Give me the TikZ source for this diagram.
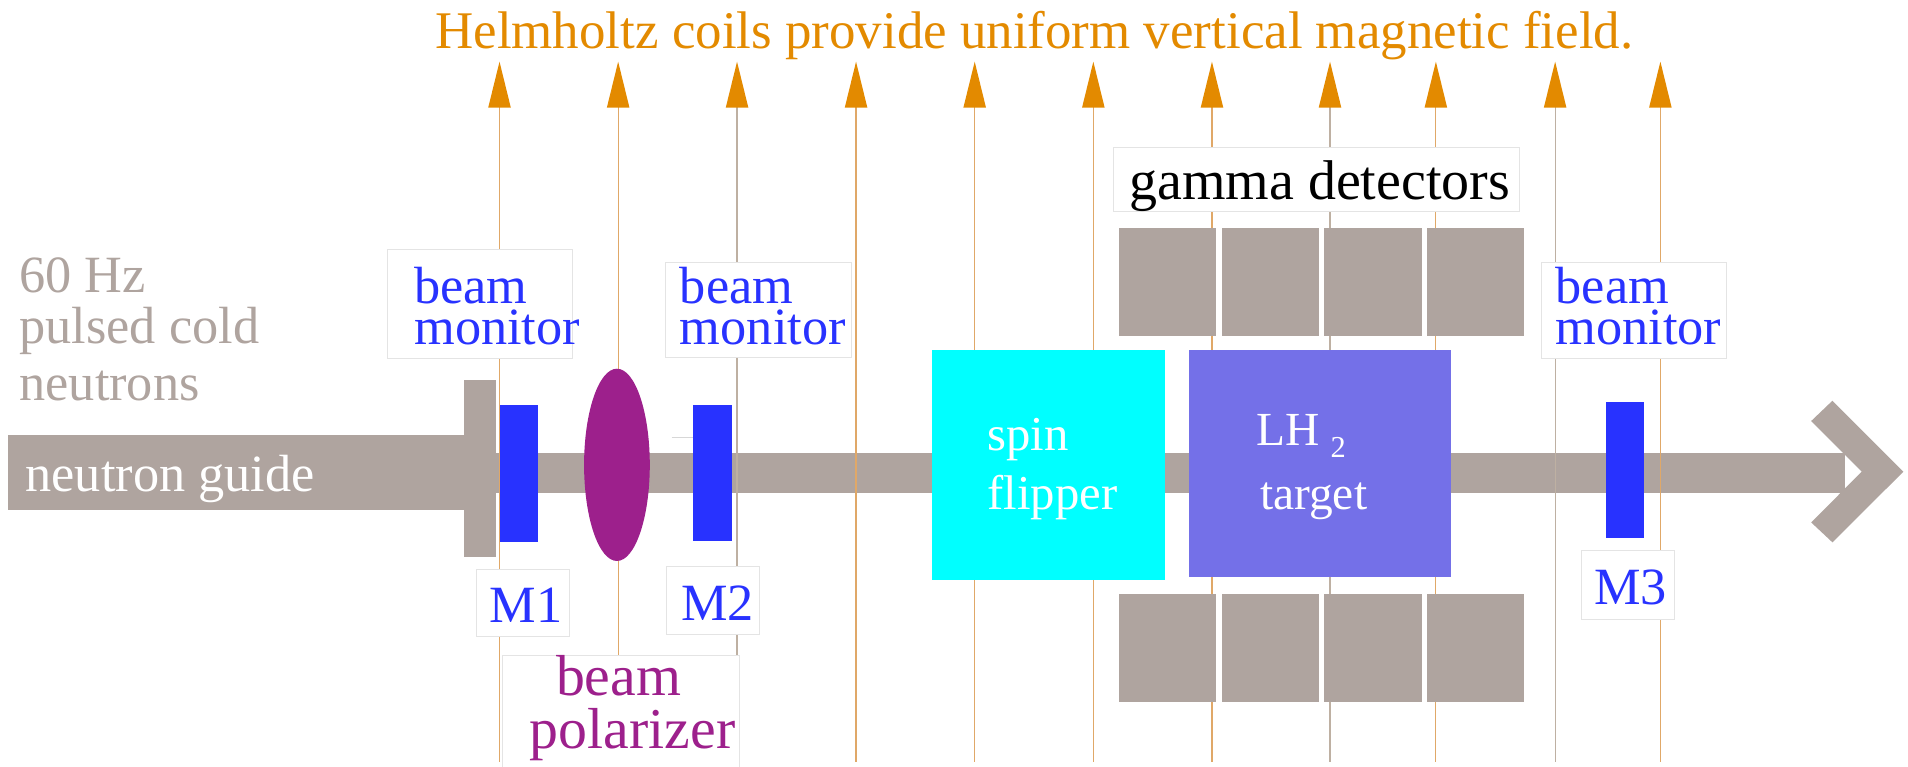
\documentclass[tikz,border=0pt]{standalone}
\usepackage{fontspec}
\usetikzlibrary{shapes.geometric}
\setmainfont{Liberation Serif}
\definecolor{beamgray}{RGB}{175,164,159}
\definecolor{fieldorange}{RGB}{227,138,0}
\definecolor{lineorange}{RGB}{224,168,104}
\definecolor{linegray}{RGB}{190,176,162}
\definecolor{monblue}{RGB}{40,50,255}
\definecolor{polpurple}{RGB}{157,32,140}
\definecolor{flipcyan}{RGB}{0,255,255}
\definecolor{targetblue}{RGB}{116,112,232}
\definecolor{boxline}{RGB}{228,228,228}
\definecolor{tickgray}{RGB}{215,215,215}
\newcommand\setfs[1]{\fontsize{#1}{#1}\selectfont}
\begin{document}
\begin{tikzpicture}[x=1pt,y=-1pt,
  txt/.style={inner sep=0pt,outer sep=0pt,anchor=base west},
  montxt/.style={inner sep=0pt,outer sep=0pt,anchor=base west,align=left,text=monblue,
                 font=\fontsize{43}{33.6}\selectfont},
  shp/.style={inner sep=0pt,outer sep=0pt,anchor=north west,draw=none},
  lbox/.style={inner sep=0pt,outer sep=0pt,anchor=north west,draw=boxline,line width=0.8pt,fill=white},
  field/.style={line width=1pt},
  fhead/.style={fill=fieldorange},
]
\useasboundingbox (0,0) rectangle (1568,630);

% --- beam line ---
\node[shp,fill=beamgray,minimum width=374.8,minimum height=61.7] (guide) at (6.7,357.3) {};
\node[shp,fill=beamgray,minimum width=26.1,minimum height=146] (flange) at (381.5,312) {};
\node[shp,fill=beamgray,minimum width=1108.4,minimum height=32.5] (beam) at (407.6,372.5) {};
\fill[beamgray] (1488.4,346) -- (1505.9,329.3) -- (1564.2,387.6) -- (1505.9,445.7)
   -- (1488.4,429.3) -- (1530,387.6) -- cycle;
\draw[tickgray,line width=1pt] (552,359.7) -- (569.8,359.7);

% --- field lines ---
\foreach \x/\c in {410.5/lineorange,508/lineorange,605.7/linegray,703.5/lineorange,
                   801/lineorange,898.5/lineorange,996/lineorange,1093/linegray,
                   1180/lineorange,1278/linegray,1364.5/lineorange}{
  \draw[field,\c] (\x,626) -- (\x,88);
  \fill[fhead] (\x-9.3,88.5) -- (\x,50.7) -- (\x+9.3,88.5) -- cycle;
}

% --- components ---
\node[shp,fill=monblue,minimum width=31,minimum height=112] (m1r) at (411,333) {};
\node[shp,fill=monblue,minimum width=31.5,minimum height=111.6] (m2r) at (569.8,332.8) {};
\node[shp,fill=monblue,minimum width=31,minimum height=111.4] (m3r) at (1320,330.6) {};
\node[ellipse,fill=polpurple,inner sep=0pt,minimum width=54,minimum height=158,draw=none] (pol) at (507,382) {};
\node[shp,fill=flipcyan,minimum width=191.3,minimum height=189] (flip) at (765.7,288) {};
\node[shp,fill=targetblue,minimum width=215,minimum height=186.2] (targ) at (977.3,288) {};
\foreach \x [count=\i] in {919.7,1003.9,1088.3,1172.8}{
  \node[shp,fill=beamgray,minimum width=80,minimum height=89] (dt\i) at (\x,187) {};
  \node[shp,fill=beamgray,minimum width=80,minimum height=89] (db\i) at (\x,488) {};
}

% --- label boxes ---
\node[lbox,minimum width=151.7,minimum height=89.6] (bm1box) at (318.7,205) {};
\node[lbox,minimum width=152.1,minimum height=78] (bm2box) at (547.3,216) {};
\node[lbox,minimum width=152.2,minimum height=78.8] (bm3box) at (1266.7,215.7) {};
\node[lbox,minimum width=76.4,minimum height=55.2] (m1box) at (391.6,468.2) {};
\node[lbox,minimum width=76.7,minimum height=56] (m2box) at (547.6,465.4) {};
\node[lbox,minimum width=76.1,minimum height=56.4] (m3box) at (1299.9,452.5) {};
\node[lbox,minimum width=334,minimum height=52.7] (gbox) at (915,120.9) {};
\node[lbox,minimum width=195,minimum height=100] (pbox) at (413,538.6) {};

% --- texts ---
\node[txt,anchor=base,text=fieldorange,font=\setfs{43.5}] (title) at (850,39.7)
  {Helmholtz coils provide uniform vertical magnetic field.};
\node[txt,text=beamgray,font=\setfs{43}] (src1) at (16,240.5) {60 Hz};
\node[txt,text=beamgray,font=\setfs{43}] (src2) at (16,281.9) {pulsed cold};
\node[txt,text=beamgray,font=\setfs{43}] (src3) at (16,328.9) {neutrons};
\node[txt,text=white,font=\setfs{43}] (guidetxt) at (21,404.3) {neutron guide};

\node[montxt] (bm1t) at (340.5,282.9) {beam\\monitor};
\node[montxt] (bm2t) at (558.8,283.1) {beam\\monitor};
\node[montxt] (bm3t) at (1278.4,283.1) {beam\\monitor};
\node[txt,text=monblue,font=\setfs{43}] (m1t) at (402.5,511.8) {M1};
\node[txt,text=monblue,font=\setfs{43}] (m2t) at (559.7,509.9) {M2};
\node[txt,text=monblue,font=\setfs{43}] (m3t) at (1310,497) {M3};

\node[txt,anchor=base,text=polpurple,font=\setfs{47.5}] (pola) at (508.4,571.8) {beam};
\node[txt,anchor=base,text=polpurple,font=\setfs{47.5}] (polb) at (519.9,615.4) {polarizer};

\node[txt,text=white,font=\setfs{40}] (flipa) at (811.5,370.6) {spin};
\node[txt,text=white,font=\setfs{40}] (flipb) at (811.5,419) {flipper};
\node[txt,text=white,font=\setfs{39}] (lh) at (1032.8,365.7) {LH};
\node[txt,text=white,font=\setfs{25}] (lhsub) at (1093.5,375.8) {2};
\node[txt,text=white,font=\setfs{39}] (targtxt) at (1035.5,419) {target};

\node[txt,text=black,font=\setfs{46}] (gtxt) at (928,163.6) {gamma detectors};
\end{tikzpicture}
\end{document}
